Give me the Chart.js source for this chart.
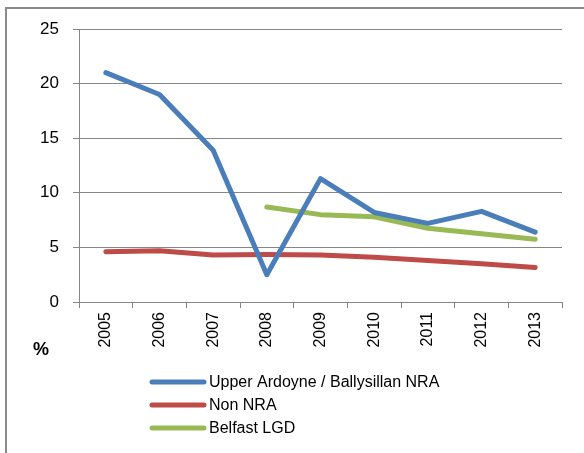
<!DOCTYPE html>
<html>
<head>
<meta charset="utf-8">
<script src="https://cdn.jsdelivr.net/npm/chart.js@4"></script>
<style>
  html, body { margin: 0; padding: 0; background: #fff; }
  #wrap { position: relative; width: 584px; height: 453px; overflow: hidden; }
  #frame { position: absolute; left: 5px; top: 7px; width: 600px; height: 460px;
           border-left: 2px solid #8a8a8a; border-top: 2px solid #8a8a8a; }
  canvas { position: absolute; left: 0; top: 0; }
</style>
</head>
<body>
<div id="wrap">
  <div id="frame"></div>
  <canvas id="trendChart" width="584" height="453"></canvas>
</div>
<script>
// datos
const years = ['2005', '2006', '2007', '2008', '2009', '2010', '2011', '2012', '2013'];
const upperArdoyne = [21.0, 19.0, 13.9, 2.5, 11.3, 8.2, 7.2, 8.3, 6.4];
const nonNra = [4.6, 4.7, 4.3, 4.35, 4.3, 4.1, 3.8, 3.5, 3.15];
const belfastLgd = [null, null, null, 8.7, 8.0, 7.8, 6.75, 6.25, 5.75];
const yTicks = [0, 5, 10, 15, 20, 25];

const font = 'Liberation Sans, Arial, sans-serif';

// leyenda vertical dibujada en el canvas
const legendPlugin = {
    id: 'vertLegend',
    afterDraw(chart) {
        const c = chart.ctx;
        const rows = [382, 405, 428];
        c.save();
        chart.data.datasets.forEach((ds, i) => {
            const y = rows[i];
            c.strokeStyle = ds.borderColor;
            c.lineWidth = 5;
            c.lineCap = 'round';
            c.beginPath();
            c.moveTo(152, y);
            c.lineTo(204, y);
            c.stroke();
            c.fillStyle = '#000';
            c.font = '16px ' + font;
            c.textBaseline = 'middle';
            c.fillText(ds.label, 209, y + 1);
        });
        // etiqueta del eje
        c.font = 'bold 18px ' + font;
        c.fillText('%', 33, 350);
        c.restore();
    }
};

const ctx = document.getElementById('trendChart');
new Chart(ctx, {
    type: 'line',
    data: {
        labels: years,
        datasets: [{
            label: 'Upper Ardoyne / Ballysillan NRA',
            data: upperArdoyne,
            borderColor: '#4a7ebb'
        }, {
            label: 'Non NRA',
            data: nonNra,
            borderColor: '#be4b48'
        }, {
            label: 'Belfast LGD',
            data: belfastLgd,
            borderColor: '#98b954'
        }]
    },
    options: {
        responsive: false,
        animation: false,
        devicePixelRatio: 1,
        elements: {
            line: { borderWidth: 5, tension: 0, borderCapStyle: 'round', borderJoinStyle: 'round' },
            point: { radius: 0 }
        },
        layout: { padding: { left: 0, top: 29, right: 22, bottom: 0 } },
        plugins: {
            legend: { display: false },
            tooltip: { enabled: false }
        },
        scales: {
            x: {
                offset: true,
                grid: { offset: true, drawOnChartArea: false, drawTicks: true, tickLength: 6, color: '#868686' },
                border: { color: '#868686', width: 1 },
                ticks: { color: '#000', font: { family: font, size: 16 }, minRotation: 90, maxRotation: 90, padding: 4 },
                afterFit(scale) { scale.height = 151; }
            },
            y: {
                min: 0,
                max: 25,
                afterBuildTicks(scale) { scale.ticks = yTicks.map(v => ({ value: v })); },
                grid: { color: '#868686', tickLength: 6 },
                border: { color: '#868686', width: 1 },
                ticks: { color: '#000', font: { family: font, size: 17 }, padding: 14 },
                afterFit(scale) { scale.width = 79; }
            }
        }
    },
    plugins: [legendPlugin]
});
</script>
</body>
</html>
